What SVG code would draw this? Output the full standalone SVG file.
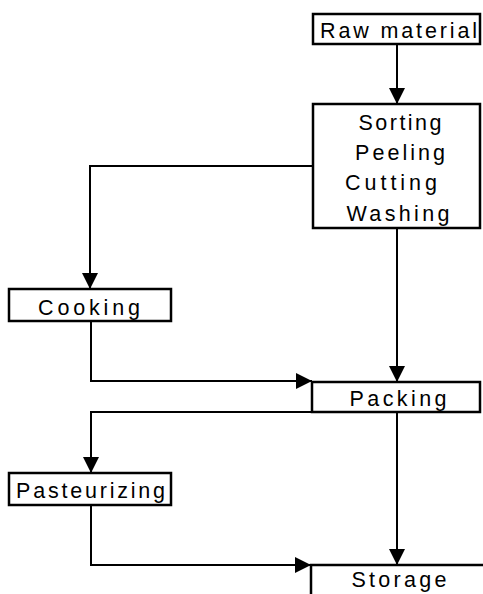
<svg xmlns="http://www.w3.org/2000/svg" width="483" height="594" viewBox="0 0 483 594">
<style>
.box{fill:#fff;stroke:#000;stroke-width:2.5}
.lbl{font-family:"Liberation Sans",Arial,sans-serif;font-size:21.5px;fill:#000;text-anchor:middle}
.con{fill:none;stroke:#000;stroke-width:2}
</style>
<defs>
<marker id="ah" markerUnits="userSpaceOnUse" markerWidth="16" markerHeight="16" viewBox="0 0 16 16" refX="16" refY="8" orient="auto">
<path d="M0,0 L16,8 L0,16 Z" fill="#000"/>
</marker>
</defs>
<g id="connectors">
<path class="con" d="M397,44 V104" marker-end="url(#ah)"/>
<path class="con" d="M313,166 H90 V289" marker-end="url(#ah)"/>
<path class="con" d="M91,321 V381 H312" marker-end="url(#ah)"/>
<path class="con" d="M397,228 V382" marker-end="url(#ah)"/>
<path class="con" d="M312,412 H91 V473" marker-end="url(#ah)"/>
<path class="con" d="M91,505 V565 H311" marker-end="url(#ah)"/>
<path class="con" d="M397,412 V565" marker-end="url(#ah)"/>
</g>
<g id="raw">
<rect class="box" x="313" y="14" width="167" height="30"/>
<text class="lbl" x="398.5" y="37.5" textLength="157" lengthAdjust="spacing">Raw material</text>
</g>
<g id="prep">
<rect class="box" x="313" y="104" width="167" height="124"/>
<text class="lbl" x="400" y="130" textLength="83" lengthAdjust="spacing">Sorting</text>
<text class="lbl" x="400" y="160" textLength="90" lengthAdjust="spacing">Peeling</text>
<text class="lbl" x="391" y="190" textLength="92" lengthAdjust="spacing">Cutting</text>
<text class="lbl" x="398" y="221" textLength="103" lengthAdjust="spacing">Washing</text>
</g>
<g id="cooking">
<rect class="box" x="9" y="289" width="162" height="32"/>
<text class="lbl" x="89" y="315" textLength="102" lengthAdjust="spacing">Cooking</text>
</g>
<g id="packing">
<rect class="box" x="312" y="382" width="168" height="30"/>
<text class="lbl" x="398" y="405.5" textLength="97" lengthAdjust="spacing">Packing</text>
</g>
<g id="pasteurizing">
<rect class="box" x="9" y="473" width="162" height="32"/>
<text class="lbl" x="90.5" y="498" textLength="149" lengthAdjust="spacing">Pasteurizing</text>
</g>
<g id="storage">
<rect class="box" x="311" y="565" width="200" height="50"/>
<text class="lbl" x="399" y="587" textLength="95" lengthAdjust="spacing">Storage</text>
</g>
</svg>
